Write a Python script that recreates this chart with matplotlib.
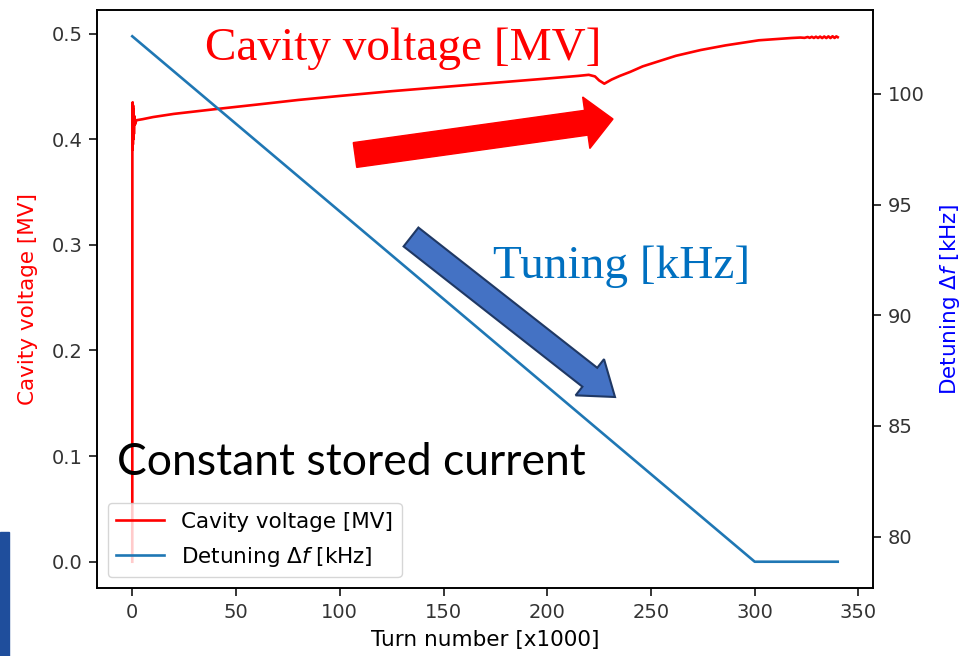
import matplotlib
matplotlib.use("Agg")
import matplotlib.pyplot as plt
from matplotlib.patches import FancyArrow, Rectangle
from matplotlib.transforms import IdentityTransform

# turn number [x1000] and cavity voltage [MV]
turns_v = [0, 0.05, 0.1, 0.2, 0.3, 0.4, 0.5, 0.6, 0.8, 1.0, 1.3, 2, 5, 10, 20, 40, 60, 80, 100,
           125, 150, 175, 200, 215, 220, 223, 225, 227.5, 231, 235, 240, 246, 254, 262, 274,
           286, 302, 318, 322, 324, 325.5, 326.5, 327.5, 328.5, 329.5, 330.5, 331.5, 332.5,
           333.5, 334.5, 335.5, 336.5, 337.5, 338.5, 339.3, 340]
voltage = [0.0, 0.43, 0.39, 0.435, 0.395, 0.432, 0.40, 0.428, 0.405, 0.422, 0.414, 0.418, 0.419,
           0.421, 0.424, 0.4285, 0.4328, 0.4372, 0.441, 0.4455, 0.4495, 0.4535, 0.4575, 0.4600,
           0.4610, 0.4595, 0.4557, 0.4526, 0.4565, 0.4600, 0.4638, 0.4690, 0.4740, 0.4790, 0.4845,
           0.4889, 0.4937, 0.4959, 0.4963, 0.4960, 0.4968, 0.4960, 0.4970, 0.4959, 0.4971, 0.4959,
           0.4972, 0.4958, 0.4973, 0.4958, 0.4974, 0.4958, 0.4975, 0.4959, 0.4974, 0.4966]

# detuning [kHz]
turns_f = [0, 300, 340]
detuning = [102.6, 78.87, 78.87]

W, H = 962, 656
fig = plt.figure(figsize=(W / 100, H / 100), dpi=100)
ax = fig.add_axes([97 / W, 1 - 588 / H, (873 - 97) / W, (588 - 10) / H])
ax2 = ax.twinx()

l1, = ax.plot(turns_v, voltage, color="red", lw=1.9, label="Cavity voltage [MV]")
l2, = ax2.plot(turns_f, detuning, color="C0", lw=1.9, label=r"Detuning $\Delta f$ [kHz]")

ax.set_xlabel("Turn number [x1000]", fontsize=15.5, labelpad=6)
ax.set_ylabel("Cavity voltage [MV]", color="red", fontsize=15.5, labelpad=10)
ax2.set_ylabel(r"Detuning $\Delta f$ [kHz]", color="blue", fontsize=15.5, labelpad=10)
ax.set_xticks([0, 50, 100, 150, 200, 250, 300, 350])
ax.set_yticks([0.0, 0.1, 0.2, 0.3, 0.4, 0.5])
ax2.set_yticks([80, 85, 90, 95, 100])
for a in (ax, ax2):
    a.tick_params(labelsize=14, length=5.5, width=1.1, pad=5, labelcolor="#333333")
    for s in a.spines.values():
        s.set_linewidth(1.2)

ax2.legend([l1, l2], [l1.get_label(), l2.get_label()], loc="lower left", fontsize=15.5,
           labelspacing=0.6, handlelength=2.2)

# slide annotations, placed in pixel coordinates of the picture
def px(x, y):
    return x / W, 1 - y / H

fig.text(*px(205, 60), "Cavity voltage [MV]", color="red", fontsize=34,
         family="Liberation Serif", va="baseline")
fig.text(*px(493, 278), "Tuning [kHz]", color="#0070C0", fontsize=34,
         family="Liberation Serif", va="baseline")
fig.text(*px(117, 475), "Constant stored current", color="black", fontsize=32,
         family="Lato", va="baseline")

ident = IdentityTransform()
fig.add_artist(FancyArrow(355, H - 155, 258, 36, width=25, head_width=52, head_length=27,
                          length_includes_head=True, color="red", transform=ident))
fig.add_artist(FancyArrow(411, H - 237, 204, -160, width=24, head_width=46, head_length=32,
                          length_includes_head=True, facecolor="#4472C4", edgecolor="#1F3864",
                          lw=1.5, transform=ident))
fig.add_artist(Rectangle((0, 0), 9, 124, color="#1f4e9c", transform=ident))

fig.savefig("out.png", dpi=100)
